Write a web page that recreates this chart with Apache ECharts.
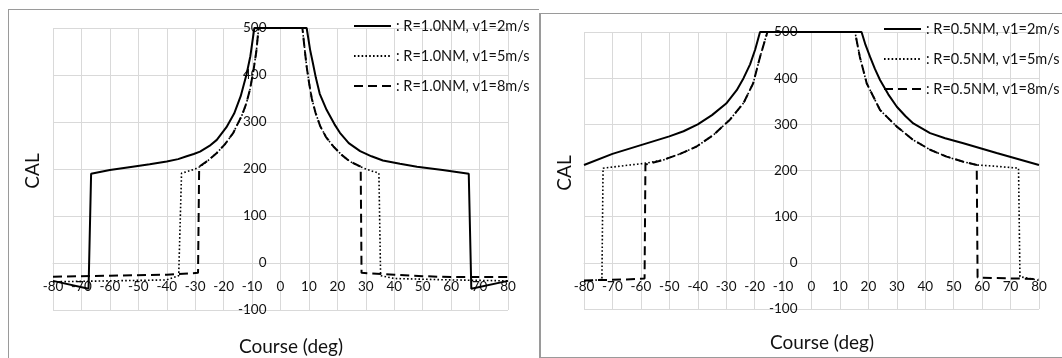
<!DOCTYPE html>
<html>
<head>
<meta charset="utf-8">
<script src="https://cdn.jsdelivr.net/npm/echarts@6/dist/echarts.min.js"></script>
<style>
body { margin: 0; width: 1062px; height: 358px; overflow: hidden; background: #fff; position: relative; }
#chartLeft { position: absolute; left: 0; top: 0; width: 539px; height: 358px; }
#chartRight { position: absolute; left: 539px; top: 0; width: 523px; height: 358px; background: #fff; }
.frame-left { position: absolute; left: 8px; top: 9px; width: 530px; height: 400px; border: 1px solid #9a9a9a; pointer-events: none; }
.frame-right { position: absolute; left: 539px; top: 13px; width: 600px; height: 343px; border-left: 2px solid #9a9a9a; border-top: 1px solid #9a9a9a; border-bottom: 1px solid #9a9a9a; pointer-events: none; }
</style>
</head>
<body>
<div id="chartLeft"></div>
<div class="frame-left"></div>
<div id="chartRight"></div>
<div class="frame-right"></div>
<script>
// axis ranges / ticks
const courseTicks = [-80, 80, 10];
const calTicks = [-100, 500, 100];

// R=1.0NM  [course deg, CAL]
const r10v2 = [[-80,-38],[-67.5,-55],[-66.6,190],[-60,198],[-52,205],[-46,210],[-40,216],[-36,221],[-33,227],[-30.5,232],[-28.3,237],[-25,249],[-22.4,262],[-19,289],[-16.3,318],[-14,355],[-12,400],[-10.6,440],[-9.2,500],
  [9.2,500],[10.4,454],[11.4,425],[12.4,395],[13.8,360],[16.2,326],[19,295],[20.9,277],[24,255],[28,238],[32,227],[36,218],[42,211],[48,205],[57,198],[66.2,190],[67.1,-55],[80,-38]];
const r10v5 = [[-80,-40],[-60,-38],[-40,-36],[-35.8,-27],[-34.8,191],[-30,200],[-28.3,205],[-25.5,218],[-22.4,234],[-19.5,253],[-16.6,277],[-13.5,315],[-12,340],[-10.7,370],[-9.5,410],[-8.5,450],[-7.7,500],
  [7.7,500],[8.5,455],[9.2,418],[10,385],[11,350],[12.3,320],[13.9,292],[16,268],[18.6,248],[21.5,230],[24.4,216],[28,205],[30,200],[34.6,191],[35.2,-27],[40,-33],[60,-36],[80,-38]];
const r10v8 = [[-80,-29],[-60,-27],[-40,-25],[-29,-21],[-28.6,205],[-25.5,218],[-22.4,234],[-19.5,253],[-16.6,277],[-13.5,315],[-12,340],[-10.7,370],[-9.5,410],[-8.5,450],[-7.7,500],
  [7.7,500],[8.5,455],[9.2,418],[10,385],[11,350],[12.3,320],[13.9,292],[16,268],[18.6,248],[21.5,230],[24.4,216],[28.2,205],[28.5,-21],[40,-25],[50,-28],[60,-30],[80,-30]];

// R=0.5NM
const r05v2 = [[-80,212],[-70,236],[-60,255],[-50,274],[-45,285],[-40,300],[-35,320],[-30,345],[-26.3,374],[-23.9,400],[-21.6,430],[-19.8,462],[-18.1,500],
  [17.6,500],[19,472],[20.6,446],[22.3,420],[24.1,396],[27,365],[30,338],[33,318],[35.8,302],[41.7,281],[47,270],[53.4,259],[65.1,238],[80,212]];
const r05v5 = [[-80,-40],[-73.7,-36],[-73.3,205],[-63.8,212],[-58,216],[-52.1,223],[-46.2,236],[-40.4,252],[-34.5,277],[-28.7,310],[-23.9,346],[-20.5,389],[-18.1,446],[-15.5,500],
  [15.3,500],[17,446],[19.4,389],[24.1,331],[30,295],[35.8,266],[41.7,245],[47.5,230],[53.4,219],[58.1,212],[65.1,209],[72.8,205],[73.3,-30],[80,-38]];
const r05v8 = [[-80,-38],[-65,-36],[-58.7,-34],[-58.4,213],[-58,216],[-52.1,223],[-46.2,236],[-40.4,252],[-34.5,277],[-28.7,310],[-23.9,346],[-20.5,389],[-18.1,446],[-15.5,500],
  [15.3,500],[17,446],[19.4,389],[24.1,331],[30,295],[35.8,266],[41.7,245],[47.5,230],[53.4,219],[58.1,212],[58.4,-32],[65,-33],[80,-35]];

const namesLeft = [': R=1.0NM, v1=2m/s', ': R=1.0NM, v1=5m/s', ': R=1.0NM, v1=8m/s'];
const namesRight = [': R=0.5NM, v1=2m/s', ': R=0.5NM, v1=5m/s', ': R=0.5NM, v1=8m/s'];

const FONT = 'Lato';
const gridColor = '#d9d9d9';

function buildOption(cfg) {
  const labelStyle = { color: '#111', fontFamily: FONT, fontSize: 13.5 };
  // axes cross at (0, 0) like in Excel: shift them from the grid edges
  const plotW = cfg.size[0] - cfg.grid[0] - cfg.grid[2];
  const plotH = cfg.size[1] - cfg.grid[1] - cfg.grid[3];
  const xShift = plotH * (0 - calTicks[0]) / (calTicks[1] - calTicks[0]);
  const yShift = plotW * (0 - courseTicks[0]) / (courseTicks[1] - courseTicks[0]);
  return {
    animation: false,
    grid: {
      left: cfg.grid[0], top: cfg.grid[1], right: cfg.grid[2], bottom: cfg.grid[3],
      outerBoundsMode: 'none'
    },
    legend: {
      orient: 'vertical',
      left: cfg.legend[0],
      top: cfg.legend[1],
      padding: 0,
      itemWidth: 37,
      itemHeight: 16,
      itemGap: 14,
      itemStyle: { color: 'rgba(0,0,0,0)', borderWidth: 0, opacity: 0 },
      textStyle: { color: '#111', fontFamily: FONT, fontSize: 14.5, lineHeight: 16 },
      data: cfg.names
    },
    xAxis: {
      type: 'value',
      min: courseTicks[0], max: courseTicks[1], interval: courseTicks[2],
      position: 'bottom',
      offset: -xShift,
      axisLine: { show: true, onZero: false, lineStyle: { color: gridColor } },
      axisTick: { show: false },
      axisLabel: Object.assign({ margin: 17, showMinLabel: true, showMaxLabel: true }, labelStyle),
      splitLine: { lineStyle: { color: gridColor } }
    },
    yAxis: {
      type: 'value',
      min: calTicks[0], max: calTicks[1], interval: calTicks[2],
      position: 'left',
      offset: -yShift,
      axisLine: { show: true, onZero: false, lineStyle: { color: gridColor } },
      axisTick: { show: false },
      axisLabel: Object.assign({ margin: 14 }, labelStyle),
      splitLine: { lineStyle: { color: gridColor } }
    },
    graphic: [
      { type: 'text', x: cfg.yName[0], y: cfg.yName[1], rotation: Math.PI / 2,
        style: { text: 'CAL', font: '19px Lato', fill: '#111', align: 'center', verticalAlign: 'middle' } },
      { type: 'text', x: cfg.xName[0], y: cfg.xName[1],
        style: { text: 'Course (deg)', font: '19px Lato', fill: '#111', align: 'center', verticalAlign: 'middle' } }
    ],
    series: [
      { name: cfg.names[0], type: 'line', data: cfg.data[0], symbol: 'none', silent: true, z: 4,
        itemStyle: { color: '#000' },
        lineStyle: { color: '#000', width: 2, type: 'solid' } },
      { name: cfg.names[1], type: 'line', data: cfg.data[1], symbol: 'none', silent: true, z: 3,
        itemStyle: { color: '#000' },
        lineStyle: { color: '#000', width: 1.6, type: [1.6, 2.2] } },
      { name: cfg.names[2], type: 'line', data: cfg.data[2], symbol: 'none', silent: true, z: 3,
        itemStyle: { color: '#000' },
        lineStyle: { color: '#000', width: 2, type: [9, 5] } }
    ]
  };
}

let chartLeft = echarts.init(document.getElementById('chartLeft'));
chartLeft.setOption(buildOption({
  size: [539, 358],
  grid: [53, 28, 31, 48],
  legend: [353, 18],
  names: namesLeft,
  data: [r10v2, r10v5, r10v8],
  yName: [33, 171],
  xName: [291, 347]
}));

let chartRight = echarts.init(document.getElementById('chartRight'));
chartRight.setOption(buildOption({
  size: [523, 358],
  grid: [45, 32, 23, 49],
  legend: [344, 21],
  names: namesRight,
  data: [r05v2, r05v5, r05v8],
  yName: [26, 173],
  xName: [283, 343]
}));
</script>
</body>
</html>
